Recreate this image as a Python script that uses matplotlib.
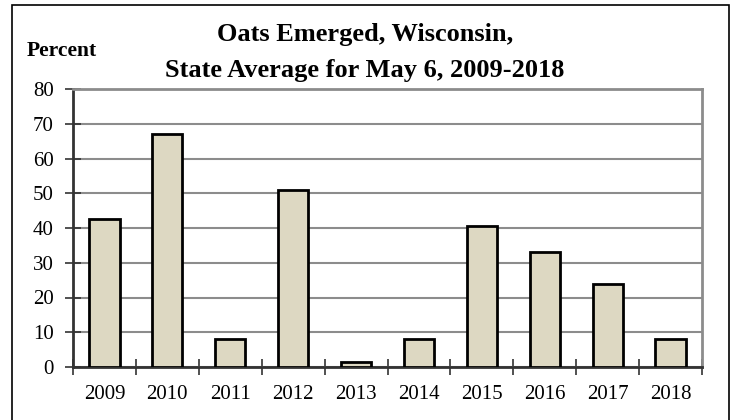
import matplotlib
matplotlib.use("Agg")
import matplotlib.pyplot as plt
from matplotlib.patches import Rectangle

# ── data ─────────────────────────────────────────────────────────────────────
years = ["2009", "2010", "2011", "2012", "2013",
         "2014", "2015", "2016", "2017", "2018"]
pct_emerged = [42.5, 67, 8, 51, 1.5, 8, 40.5, 33, 24, 8]
y_ticks = [0, 10, 20, 30, 40, 50, 60, 70, 80]

plt.rcParams["font.family"] = ["Liberation Serif", "DejaVu Serif"]

fig = plt.figure(figsize=(7.33, 4.2), dpi=100)
ax = fig.add_axes([73 / 733, 53 / 420, 629 / 733, 278 / 420])

x = range(len(years))
ax.bar(x, pct_emerged, width=0.48, color="#DDD8C2", edgecolor="black",
       linewidth=2.0, zorder=3)

ax.set_xlim(-0.5, len(years) - 0.5)
ax.set_ylim(0, 80)
ax.set_yticks(y_ticks)
ax.set_yticklabels([str(v) for v in y_ticks], fontsize=15)
ax.yaxis.grid(True, color="#8c8c8c", linewidth=1.5, zorder=0)

# category labels centred, ticks on category boundaries
ax.set_xticks(list(x))
ax.set_xticklabels(years, fontsize=15)
ax.tick_params(axis="x", which="major", length=0, pad=13)
ax.set_xticks([i - 0.5 for i in range(len(years) + 1)], minor=True)
ax.tick_params(axis="x", which="minor", direction="inout", length=12,
               width=1.2, color="#333333")
ax.tick_params(axis="y", direction="inout", length=12, width=1.2,
               color="#333333", pad=8)

for side in ("left", "bottom"):
    ax.spines[side].set_color("#333333")
    ax.spines[side].set_linewidth(2.0)
for side in ("top", "right"):
    ax.spines[side].set_color("#8c8c8c")
    ax.spines[side].set_linewidth(2.0)

# ── titles ───────────────────────────────────────────────────────────────────
fig.text(365 / 733, 1 - 40.5 / 420, "Oats Emerged, Wisconsin,",
         ha="center", va="baseline", fontsize=19, fontweight="bold")
fig.text(365 / 733, 1 - 77 / 420, "State Average for May 6, 2009-2018",
         ha="center", va="baseline", fontsize=19, fontweight="bold")
fig.text(27 / 733, 1 - 56.5 / 420, "Percent", ha="left", va="baseline",
         fontsize=15.5, fontweight="bold")

# outer frame
fig.patches.append(Rectangle((12 / 733, -0.05), (729 - 12) / 733,
                             1.05 - 5 / 420, transform=fig.transFigure,
                             fill=False, edgecolor="black", linewidth=1.2))

fig.savefig("out.png", dpi=100)
